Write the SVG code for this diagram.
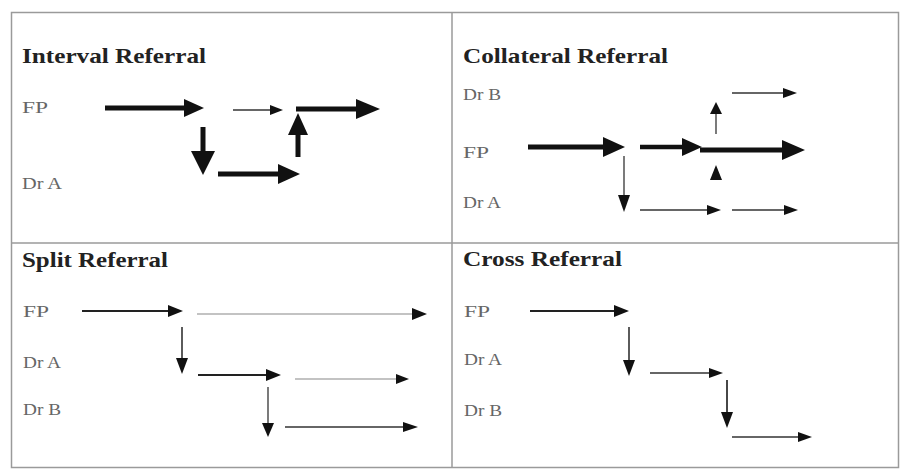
<svg xmlns="http://www.w3.org/2000/svg" width="907" height="470" viewBox="0 0 907 470">
  <style>
    .frame { fill: none; stroke: #9a9a9a; stroke-width: 1.5; }
    .title { font-family: "Liberation Serif", "Times New Roman", serif; font-weight: bold; font-size: 21px; fill: #222; }
    .lbl { font-family: "Liberation Serif", "Times New Roman", serif; font-size: 16px; fill: #666; }
    .thick { stroke: #111; stroke-width: 5; fill: none; }
    .mid { stroke: #222; stroke-width: 2; fill: none; }
    .thin { stroke: #333; stroke-width: 1.3; fill: none; }
    .faint { stroke: #888; stroke-width: 1.2; fill: none; }
    .head { fill: #111; }
  </style>

  <rect x="0" y="0" width="907" height="470" fill="#ffffff"/>

  <!-- outer frame and quadrant dividers -->
  <g id="frame">
    <rect class="frame" x="11.5" y="12.5" width="887" height="455"/>
    <line class="frame" x1="452" y1="12.5" x2="452" y2="467.5"/>
    <line class="frame" x1="11.5" y1="243" x2="898.5" y2="243"/>
  </g>

  <!-- Interval Referral labels -->
  <g id="interval">
    <text class="title" x="22" y="63" textLength="184" lengthAdjust="spacingAndGlyphs">Interval Referral</text>
    <text class="lbl" x="22" y="113" textLength="26" lengthAdjust="spacingAndGlyphs">FP</text>
    <text class="lbl" x="22" y="189" textLength="40" lengthAdjust="spacingAndGlyphs">Dr A</text>
  </g>

  <!-- Collateral Referral labels -->
  <g id="collateral">
    <text class="title" x="463" y="63" textLength="205" lengthAdjust="spacingAndGlyphs">Collateral Referral</text>
    <text class="lbl" x="463" y="100" textLength="38" lengthAdjust="spacingAndGlyphs">Dr B</text>
    <text class="lbl" x="463" y="158" textLength="26" lengthAdjust="spacingAndGlyphs">FP</text>
    <text class="lbl" x="463" y="208" textLength="38" lengthAdjust="spacingAndGlyphs">Dr A</text>
  </g>

  <!-- Split Referral labels -->
  <g id="split">
    <text class="title" x="22" y="267" textLength="146" lengthAdjust="spacingAndGlyphs">Split Referral</text>
    <text class="lbl" x="23" y="317" textLength="26" lengthAdjust="spacingAndGlyphs">FP</text>
    <text class="lbl" x="23" y="368" textLength="38" lengthAdjust="spacingAndGlyphs">Dr A</text>
    <text class="lbl" x="23" y="415" textLength="38" lengthAdjust="spacingAndGlyphs">Dr B</text>
  </g>

  <!-- Cross Referral labels -->
  <g id="cross">
    <text class="title" x="463" y="266" textLength="159" lengthAdjust="spacingAndGlyphs">Cross Referral</text>
    <text class="lbl" x="464" y="317" textLength="26" lengthAdjust="spacingAndGlyphs">FP</text>
    <text class="lbl" x="464" y="365" textLength="38" lengthAdjust="spacingAndGlyphs">Dr A</text>
    <text class="lbl" x="464" y="416" textLength="38" lengthAdjust="spacingAndGlyphs">Dr B</text>
  </g>

  <!-- arrows: shaft plus filled head -->
  <g id="connectors">
    <!-- Interval Referral -->
    <line class="thick" x1="105" y1="108" x2="186" y2="108"/>
    <polygon class="head" points="204,108 184,99 184,117"/>
    <line class="thin" x1="233" y1="110" x2="271" y2="110"/>
    <polygon class="head" points="283,110 270,105 270,115"/>
    <line class="thick" x1="203" y1="127" x2="203" y2="153"/>
    <polygon class="head" points="203,175 191,151 215,151"/>
    <line class="thick" x1="218" y1="174" x2="280" y2="174"/>
    <polygon class="head" points="300,174 278,164 278,184"/>
    <line class="thick" x1="298" y1="157" x2="298" y2="133"/>
    <polygon class="head" points="298,113 288,135 308,135"/>
    <line class="thick" x1="296" y1="109" x2="358" y2="109"/>
    <polygon class="head" points="380,109 356,99 356,119"/>

    <!-- Collateral Referral -->
    <line class="thick" x1="528" y1="147" x2="605" y2="147"/>
    <polygon class="head" points="625,147 603,137 603,157"/>
    <line class="thick" x1="640" y1="147" x2="684" y2="147" style="stroke-width:4.5"/>
    <polygon class="head" points="702,147 682,138 682,156"/>
    <line class="thick" x1="700" y1="150" x2="784" y2="150"/>
    <polygon class="head" points="805,150 782,140 782,160"/>
    <line class="thin" x1="716" y1="134" x2="716" y2="112"/>
    <polygon class="head" points="716,102 710,114 722,114"/>
    <line class="thin" x1="732" y1="93" x2="784" y2="93"/>
    <polygon class="head" points="797,93 783,88 783,98"/>
    <polygon class="head" points="716,165 710,180 722,180"/>
    <line class="thin" x1="624" y1="156" x2="624" y2="197"/>
    <polygon class="head" points="624,212 618,195 630,195"/>
    <line class="thin" x1="640" y1="210" x2="709" y2="210" style="stroke-width:1.6"/>
    <polygon class="head" points="721,210 707,205 707,215"/>
    <line class="thin" x1="732" y1="210" x2="785" y2="210"/>
    <polygon class="head" points="798,210 784,205 784,215"/>

    <!-- Split Referral -->
    <line class="mid" x1="82" y1="311" x2="170" y2="311"/>
    <polygon class="head" points="183,311 168,305 168,317"/>
    <line class="faint" x1="197" y1="314" x2="414" y2="314"/>
    <polygon class="head" points="427,314 412,308 412,320"/>
    <line class="thin" x1="182" y1="327" x2="182" y2="360" style="stroke-width:1.6"/>
    <polygon class="head" points="182,374 176,358 188,358"/>
    <line class="mid" x1="198" y1="375" x2="268" y2="375"/>
    <polygon class="head" points="281,375 266,369 266,381"/>
    <line class="faint" x1="295" y1="379" x2="397" y2="379"/>
    <polygon class="head" points="409,379 396,374 396,384"/>
    <line class="thin" x1="268" y1="387" x2="268" y2="425"/>
    <polygon class="head" points="268,437 262,423 274,423"/>
    <line class="thin" x1="285" y1="427" x2="404" y2="427"/>
    <polygon class="head" points="418,427 403,422 403,432"/>

    <!-- Cross Referral -->
    <line class="mid" x1="530" y1="311" x2="616" y2="311"/>
    <polygon class="head" points="629,311 614,305 614,317"/>
    <line class="thin" x1="629" y1="327" x2="629" y2="362" style="stroke-width:1.6"/>
    <polygon class="head" points="629,376 623,360 635,360"/>
    <line class="thin" x1="650" y1="373" x2="710" y2="373" style="stroke-width:1.6"/>
    <polygon class="head" points="723,373 709,368 709,378"/>
    <line class="thin" x1="727" y1="380" x2="727" y2="414" style="stroke-width:1.8"/>
    <polygon class="head" points="727,428 721,412 733,412"/>
    <line class="thin" x1="732" y1="437" x2="799" y2="437" style="stroke-width:1.5"/>
    <polygon class="head" points="812,437 798,432 798,442"/>
  </g>
</svg>
